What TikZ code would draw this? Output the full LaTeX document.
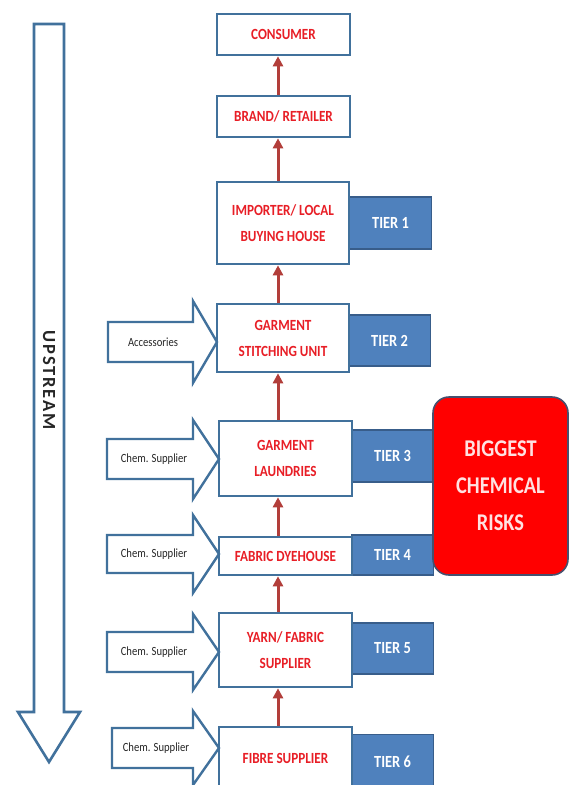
\documentclass[tikz,border=0pt]{standalone}
\usepackage{fontspec}
\setmainfont{Carlito}
\newfontfamily\cond[FakeStretch=0.85]{Carlito}
\newfontfamily\upsfont[LetterSpace=10]{Carlito}
\usetikzlibrary{arrows.meta}
\definecolor{bordblue}{RGB}{65,113,156}
\definecolor{tierblue}{RGB}{79,129,189}
\definecolor{tierbord}{RGB}{56,93,138}
\definecolor{boxred}{RGB}{232,30,38}
\definecolor{connred}{RGB}{178,62,58}
\definecolor{riskred}{RGB}{255,0,0}
\definecolor{riskbord}{RGB}{70,80,110}
\definecolor{risktext}{RGB}{255,225,225}
\begin{document}
\begin{tikzpicture}[x=1pt,y=-1pt,
  mainbox/.style={draw=bordblue,line width=2.6pt,fill=white,text=boxred,
    minimum width=133pt,inner sep=0pt,align=center,
    font=\cond\bfseries\fontsize{15.5}{26}\selectfont},
  tierbox/.style={draw=tierbord,line width=1.2pt,fill=tierblue,text=white,
    minimum width=82pt,inner sep=0pt,
    font=\cond\bfseries\fontsize{17}{18}\selectfont},
  blockarrow/.style={draw=bordblue,line width=2.4pt,fill=white,line join=miter},
  sidetext/.style={inner sep=0pt,text=black!85,font=\cond\fontsize{12.5}{14}\selectfont},
  conn/.style={draw=connred,line width=3pt,-{Triangle[length=10pt,width=10pt]}}]
\useasboundingbox (0,0) rectangle (574,785);
\clip (0,0) rectangle (574,785);
\fill[white] (0,0) rectangle (574,785);

% UPSTREAM arrow
\draw[blockarrow,line width=2.6pt] (34,24) -- (64,24) -- (64,712) -- (80,712) -- (49,762) -- (18,712) -- (34,712) -- cycle;
\node[rotate=-90,inner sep=0pt,text=black!85,font=\upsfont\bfseries\fontsize{18.5}{20}\selectfont] (ups) at (49,380) {UPSTREAM};

% tier boxes
\node[tierbox,minimum height=52pt] (t1) at (390.5,223) {TIER 1};
\node[tierbox,minimum height=51pt] (t2) at (389.5,340.5) {TIER 2};
\node[tierbox,minimum height=52pt] (t3) at (392.5,456) {TIER 3};
\node[tierbox,minimum height=40pt] (t4) at (392.5,555) {TIER 4};
\node[tierbox,minimum height=51pt] (t5) at (392.5,648.5) {TIER 5};
\node[tierbox,minimum height=55pt] (t6) at (392.5,762) {TIER 6};

% risk box
\node[draw=riskbord,line width=1.6pt,fill=riskred,rounded corners=16pt,
  minimum width=135pt,minimum height=178pt,inner sep=0pt,align=center,text=risktext,
  font=\cond\bfseries\fontsize{24}{37}\selectfont] (risk) at (500.5,486) {BIGGEST\\CHEMICAL\\RISKS};

% main boxes
\node[mainbox,minimum height=41pt] (consumer) at (283.5,34.5) {CONSUMER};
\node[mainbox,minimum height=41pt] (brand) at (283.5,116.5) {BRAND/ RETAILER};
\node[mainbox,minimum height=82pt,minimum width=132pt] (importer) at (283,223) {IMPORTER/ LOCAL\\BUYING HOUSE};
\node[mainbox,minimum height=68pt,minimum width=132pt] (stitch) at (283,338) {GARMENT\\STITCHING UNIT};
\node[mainbox,minimum height=75pt] (laundry) at (285.5,458.5) {GARMENT\\LAUNDRIES};
\node[mainbox,minimum height=38pt] (dye) at (285.5,556) {FABRIC DYEHOUSE};
\node[mainbox,minimum height=74pt] (yarn) at (285.5,650) {YARN/ FABRIC\\SUPPLIER};
\node[mainbox,minimum height=63pt] (fibre) at (285.5,758.5) {FIBRE SUPPLIER};

% side block arrows
\draw[blockarrow] (108,322) -- (193,322) -- (193,301) -- (217,342) -- (193,383) -- (193,362) -- (108,362) -- cycle;
\node[sidetext] (acc) at (153,342) {Accessories};
\draw[blockarrow] (107,439) -- (193,439) -- (193,420) -- (219,459) -- (193,499) -- (193,479) -- (107,479) -- cycle;
\node[sidetext] (ch1) at (154,459) {Chem. Supplier};
\draw[blockarrow] (107,535) -- (193,535) -- (193,515) -- (219,554) -- (193,593) -- (193,573) -- (107,573) -- cycle;
\node[sidetext] (ch2) at (154,554) {Chem. Supplier};
\draw[blockarrow] (107,632) -- (193,632) -- (193,614) -- (219,652) -- (193,690) -- (193,672) -- (107,672) -- cycle;
\node[sidetext] (ch3) at (154,652) {Chem. Supplier};
\draw[blockarrow] (112,728) -- (193,728) -- (193,711) -- (219,748) -- (193,785) -- (193,768) -- (112,768) -- cycle;
\node[sidetext] (ch4) at (156,748) {Chem. Supplier};

% connectors
\coordinate (sp) at (278,0);
\draw[conn] (brand.north -| sp) -- (consumer.south -| sp);
\draw[conn] (importer.north -| sp) -- (brand.south -| sp);
\draw[conn] (stitch.north -| sp) -- (importer.south -| sp);
\draw[conn] (laundry.north -| sp) -- (stitch.south -| sp);
\draw[conn] (dye.north -| sp) -- (laundry.south -| sp);
\draw[conn] (yarn.north -| sp) -- (dye.south -| sp);
\draw[conn] (fibre.north -| sp) -- (yarn.south -| sp);
\end{tikzpicture}
\end{document}
